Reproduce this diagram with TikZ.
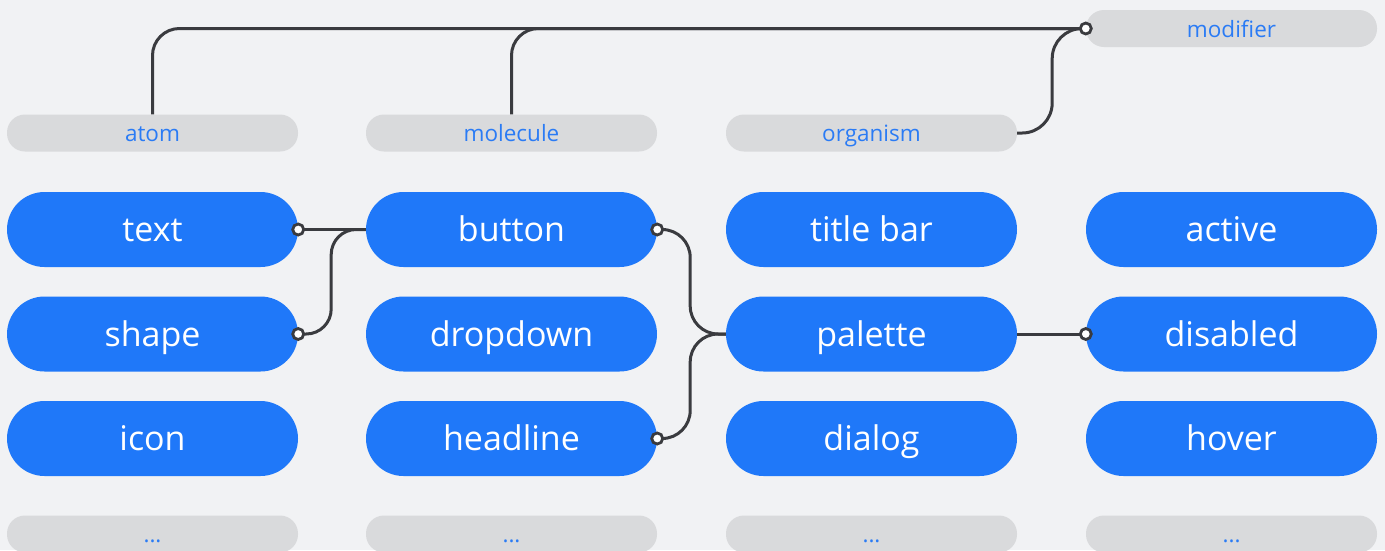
\documentclass[tikz,border=0pt]{standalone}
\usepackage{fontspec}
\setmainfont{Open Sans}
\definecolor{bg}{HTML}{F1F2F4}
\definecolor{pillblue}{HTML}{1F78F9}
\definecolor{pillgray}{HTML}{D9DADC}
\definecolor{labelblue}{HTML}{2A7BF5}
\definecolor{wire}{HTML}{3A3B3F}
\tikzset{
  item/.style={rectangle, rounded corners=37.5pt, minimum width=291pt,
    minimum height=75pt, inner sep=0pt, fill=pillblue, text=white,
    font=\fontsize{34}{38}\selectfont, text height=24.4pt, text depth=0pt},
  tag/.style={rectangle, rounded corners=18pt, minimum width=291pt,
    minimum height=37pt, inner sep=0pt, fill=pillgray, text=labelblue,
    font=\fontsize{22.5}{26}\selectfont, text height=17.4pt, text depth=0pt},
  wire/.style={draw=wire, line width=3pt},
  port/.style={circle, fill=white, draw=wire, line width=2.8pt,
    minimum size=11pt, inner sep=0pt},
}
\begin{document}
\begin{tikzpicture}[x=1pt,y=-1pt]
  \useasboundingbox (0,0) rectangle (1385,550);
  \clip (0,0) rectangle (1385,550);
  \fill[bg] (0,0) rectangle (1385,550);

  % category headers
  \node[tag] (atom)     at (152.5,133) {atom};
  \node[tag] (molecule) at (511.5,133) {molecule};
  \node[tag] (organism) at (871.5,133) {organism};
  \node[tag] (modifier) at (1231.5,28.5) {modifier};

  % column 1: atoms
  \node[item] (text)  at (152.5,229.5) {text};
  \node[item] (shape) at (152.5,334)   {shape};
  \node[item] (icon)  at (152.5,438.5) {icon};
  % column 2: molecules
  \node[item] (button)   at (511.5,229.5) {button};
  \node[item] (dropdown) at (511.5,334)   {dropdown};
  \node[item] (headline) at (511.5,438.5) {headline};
  % column 3: organisms
  \node[item] (titlebar) at (871.5,229.5) {title bar};
  \node[item] (palette)  at (871.5,334)   {palette};
  \node[item] (dialog)   at (871.5,438.5) {dialog};
  % column 4: modifiers
  \node[item] (active)   at (1231.5,229.5) {active};
  \node[item] (disabled) at (1231.5,334)   {disabled};
  \node[item] (hover)    at (1231.5,438.5) {hover};

  % more entries below
  \node[tag] (more1) at (152.5,534)  {...};
  \node[tag] (more2) at (511.5,534)  {...};
  \node[tag] (more3) at (871.5,534)  {...};
  \node[tag] (more4) at (1231.5,534) {...};

  % header links to modifier
  \draw[wire, rounded corners=27pt] (atom.north) |- (modifier.west);
  \draw[wire, rounded corners=27pt] (molecule.north) |- (modifier.west);
  \draw[wire, rounded corners=30pt] (organism.east) -- ++(35,0)
    |- (modifier.west);

  % atoms into button
  \draw[wire] (text.east) -- (button.west);
  \draw[wire, rounded corners=25pt] (shape.east) -- ++(33,0)
    |- (button.west);

  % molecules into palette
  \draw[wire, rounded corners=28pt] (button.east) -- ++(33,0)
    |- (palette.west);
  \draw[wire, rounded corners=28pt] (headline.east) -- ++(33,0)
    |- (palette.west);

  % palette to disabled
  \draw[wire] (palette.east) -- (disabled.west);

  % open ports on the source ends
  \foreach \p in {text.east, shape.east, button.east, headline.east,
                  disabled.west, modifier.west}
    \node[port] at (\p) {};
\end{tikzpicture}
\end{document}
